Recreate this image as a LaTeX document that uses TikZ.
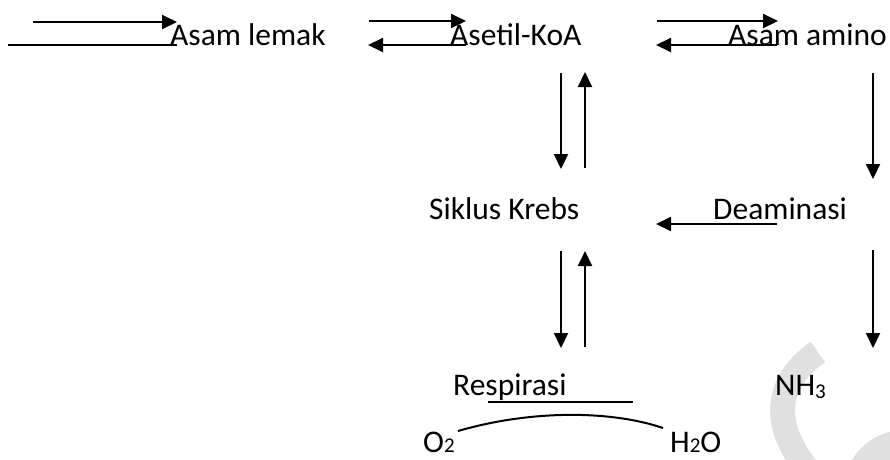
\documentclass[tikz,border=0pt]{standalone}
\usepackage{fontspec}
\setmainfont{Carlito}
\usetikzlibrary{arrows.meta}
\tikzset{
  lbl/.style={anchor=base west, inner sep=0pt, font=\fontsize{31.5}{36}\selectfont},
  arr/.style={line width=2pt, -{Triangle[length=15pt,width=14pt]}},
  plain/.style={line width=2pt},
}
\newcommand{\sbs}[1]{\raisebox{-0.12em}{\fontsize{21}{21}\selectfont #1}}
\newcommand{\sbb}[1]{\raisebox{-0.02em}{\fontsize{21}{21}\selectfont #1}}
\begin{document}
\begin{tikzpicture}[x=1pt,y=-1pt]
\useasboundingbox (0,0) rectangle (890,459);
% watermark
\begin{scope}
\clip (0,0) rectangle (890,459);
\fill[black!12] (905,492) circle (62);
\draw[black!12, line width=25pt] (818,352) .. controls (770,385) and (775,430) .. (808,470);
\end{scope}
% labels
\node[lbl] (lemak) at (170,45) {Asam lemak};
\node[lbl] (asetil) at (450,45) {Asetil-KoA};
\node[lbl] (amino) at (728,45) {Asam amino};
\node[lbl] (krebs) at (429,219) {Siklus Krebs};
\node[lbl] (deam) at (713,219) {Deaminasi};
\node[lbl] (resp) at (453,395) {Respirasi};
\node[lbl] (nh) at (775,395) {NH\sbs{3}};
\node[lbl] (o2) at (423,452) {O\sbb{2}};
\node[lbl] (h2o) at (670,452) {H\sbb{2}O};
% coordinates
\coordinate (a1s) at (33,22);  \coordinate (a1e) at (177,22);
\coordinate (l1s) at (8,45);   \coordinate (l1e) at (177,45);
\coordinate (a2s) at (369,21); \coordinate (a2e) at (466,21);
\coordinate (b2s) at (466,45); \coordinate (b2e) at (368,45);
\coordinate (a3s) at (657,21); \coordinate (a3e) at (778,21);
\coordinate (b3s) at (777,45); \coordinate (b3e) at (656,45);
\coordinate (v1s) at (561,73);  \coordinate (v1e) at (561,169);
\coordinate (u1s) at (585,168); \coordinate (u1e) at (585,72);
\coordinate (v2s) at (561,251); \coordinate (v2e) at (561,348);
\coordinate (u2s) at (585,347); \coordinate (u2e) at (585,251);
\coordinate (r1s) at (873,73);  \coordinate (r1e) at (873,179);
\coordinate (r2s) at (873,250); \coordinate (r2e) at (873,348);
\coordinate (ds) at (777,224);  \coordinate (de) at (656,224);
\coordinate (us) at (488,402);  \coordinate (ue) at (633,402);
\coordinate (cs) at (458,431);  \coordinate (ce) at (663,428);
% connectors
\draw[arr] (a1s) -- (a1e);
\draw[plain] (l1s) -- (l1e);
\draw[arr] (a2s) -- (a2e);
\draw[arr] (b2s) -- (b2e);
\draw[arr] (a3s) -- (a3e);
\draw[arr] (b3s) -- (b3e);
\draw[arr] (v1s) -- (v1e);
\draw[arr] (u1s) -- (u1e);
\draw[arr] (v2s) -- (v2e);
\draw[arr] (u2s) -- (u2e);
\draw[arr] (r1s) -- (r1e);
\draw[arr] (r2s) -- (r2e);
\draw[arr] (ds) -- (de);
\draw[plain] (us) -- (ue);
\draw[plain] (cs) .. controls (530,410) and (610,410) .. (ce);
\end{tikzpicture}
\end{document}
